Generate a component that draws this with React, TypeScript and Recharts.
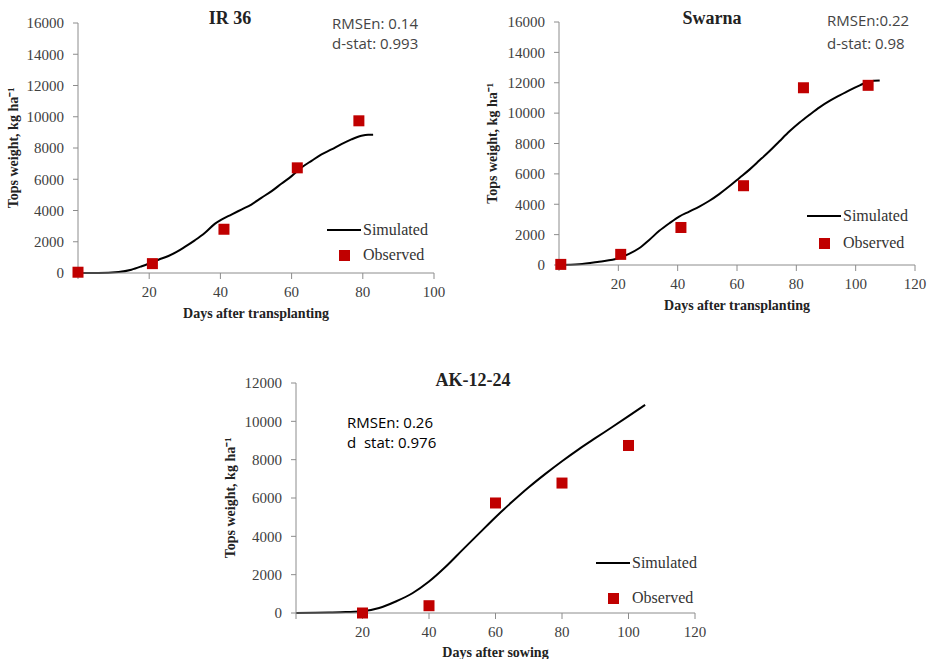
import React from 'react'
import { ComposedChart, Line, Scatter, XAxis, YAxis, Legend, Label } from 'recharts'

type Pt = { day: number; w: number }

// IR 36 — simulated curve and observed samples (kg/ha)
const irSim: Pt[] = [
  { day: 0, w: 0 }, { day: 5.7, w: 0 }, { day: 11.4, w: 64 }, { day: 15, w: 210 },
  { day: 17.9, w: 430 }, { day: 20.3, w: 640 }, { day: 22.6, w: 850 }, { day: 25.4, w: 1090 },
  { day: 27.7, w: 1350 }, { day: 30, w: 1670 }, { day: 32.8, w: 2090 }, { day: 35.6, w: 2560 },
  { day: 38.5, w: 3160 }, { day: 40.3, w: 3420 }, { day: 43.1, w: 3740 }, { day: 45.9, w: 4060 },
  { day: 48.7, w: 4380 }, { day: 51.5, w: 4810 }, { day: 54.4, w: 5240 }, { day: 57.2, w: 5730 },
  { day: 60, w: 6200 }, { day: 62.8, w: 6750 }, { day: 65.6, w: 7180 }, { day: 68.4, w: 7590 },
  { day: 71.2, w: 7910 }, { day: 74, w: 8250 }, { day: 76.8, w: 8550 }, { day: 79.6, w: 8780 },
  { day: 81.5, w: 8850 }, { day: 82.9, w: 8850 },
]
const irObs: Pt[] = [
  { day: 0, w: 50 }, { day: 20.9, w: 600 }, { day: 41, w: 2800 }, { day: 61.6, w: 6730 }, { day: 78.9, w: 9740 },
]

// Swarna
const swSim: Pt[] = [
  { day: 0, w: 0 }, { day: 6.8, w: 44 }, { day: 13.5, w: 220 }, { day: 20, w: 440 },
  { day: 23.6, w: 730 }, { day: 27, w: 1100 }, { day: 30.4, w: 1650 }, { day: 33.8, w: 2250 },
  { day: 37.2, w: 2750 }, { day: 40.5, w: 3190 }, { day: 43.9, w: 3520 }, { day: 47.3, w: 3850 },
  { day: 50.7, w: 4230 }, { day: 54, w: 4670 }, { day: 57.4, w: 5180 }, { day: 60.8, w: 5730 },
  { day: 64.2, w: 6280 }, { day: 67.6, w: 6890 }, { day: 70.9, w: 7490 }, { day: 74.3, w: 8150 },
  { day: 77.7, w: 8800 }, { day: 81.1, w: 9380 }, { day: 84.5, w: 9900 }, { day: 87.8, w: 10380 },
  { day: 91.2, w: 10800 }, { day: 94.6, w: 11170 }, { day: 98, w: 11520 }, { day: 101.4, w: 11830 },
  { day: 104.7, w: 12090 }, { day: 108.1, w: 12140 },
]
const swObs: Pt[] = [
  { day: 0.6, w: 40 }, { day: 20.8, w: 700 }, { day: 41.1, w: 2470 }, { day: 62.2, w: 5220 },
  { day: 82.4, w: 11670 }, { day: 104.2, w: 11830 },
]

// AK-12-24
const akSim: Pt[] = [
  { day: 0, w: 0 }, { day: 10, w: 20 }, { day: 15, w: 50 }, { day: 20, w: 90 },
  { day: 25, w: 260 }, { day: 30, w: 600 }, { day: 35, w: 1030 }, { day: 40, w: 1640 },
  { day: 45, w: 2410 }, { day: 50, w: 3280 }, { day: 55, w: 4140 }, { day: 60, w: 5000 },
  { day: 65, w: 5800 }, { day: 70, w: 6560 }, { day: 75, w: 7260 }, { day: 80, w: 7920 },
  { day: 85, w: 8540 }, { day: 90, w: 9120 }, { day: 95, w: 9690 }, { day: 100, w: 10270 },
  { day: 105, w: 10860 },
]
const akObs: Pt[] = [
  { day: 20, w: 0 }, { day: 40, w: 380 }, { day: 60, w: 5740 }, { day: 80, w: 6780 }, { day: 100, w: 8740 },
]

const ticks100 = [0, 20, 40, 60, 80, 100]
const ticks120 = [0, 20, 40, 60, 80, 100, 120]
const ticks16k = [0, 2000, 4000, 6000, 8000, 10000, 12000, 14000, 16000]
const ticks12k = [0, 2000, 4000, 6000, 8000, 10000, 12000]

const SERIF = '"Liberation Serif", "Times New Roman", serif'
const SANS = '"Open Sans", "Liberation Sans", sans-serif'
const RED = '#c00000'
const AXIS = '#8c8c8c'

const square = (p: any) => (
  <rect x={p.cx - 5.5} y={p.cy - 5.5} width={11} height={11} fill={RED} />
)

const legendContent = (gap: number) => (props: any) => {
  const items = [...(props.payload || [])].sort((a: any, b: any) =>
    a.type === 'line' ? -1 : b.type === 'line' ? 1 : 0)
  return (
    <div>
      {items.map((e: any, i: number) => (
        <div key={i} style={{ display: 'flex', alignItems: 'center', height: 20, marginBottom: i === 0 ? gap - 20 : 0 }}>
          <div style={{ width: 34, display: 'flex', justifyContent: 'center', alignItems: 'center' }}>
            {e.type === 'line'
              ? <div style={{ width: 34, height: 2.5, background: '#000' }} />
              : <div style={{ width: 11, height: 11, background: RED }} />}
          </div>
          <span style={{ marginLeft: 2, font: `16px ${SERIF}`, color: '#333', whiteSpace: 'nowrap' }}>{e.value}</span>
        </div>
      ))}
    </div>
  )
}

interface PanelProps {
  left: number
  top: number
  width: number
  height: number
  margin: { top: number; right: number; bottom: number; left: number }
  xMax: number
  yMax: number
  xTicks: number[]
  yTicks: number[]
  sim: Pt[]
  obs: Pt[]
  xTitle: string
  xLabelOffset: number
  yLabelOffset: number
  legendPos: { left: number; top: number; gap: number }
}

function Panel(p: PanelProps) {
  const tick = { fill: '#404040', fontSize: 15, fontFamily: SERIF }
  return (
    <div style={{ position: 'absolute', left: p.left, top: p.top }}>
      <ComposedChart width={p.width} height={p.height} margin={p.margin}>
        <XAxis
          type="number"
          dataKey="day"
          domain={[0, p.xMax]}
          ticks={p.xTicks}
          tickFormatter={(v: number) => (v === 0 ? '' : String(v))}
          height={30}
          tick={tick}
          tickSize={6}
          tickMargin={7}
          axisLine={{ stroke: AXIS }}
          tickLine={{ stroke: AXIS }}
        >
          <Label
            value={p.xTitle}
            position="bottom"
            offset={p.xLabelOffset}
            style={{ fontFamily: SERIF, fontWeight: 'bold', fontSize: 14, fill: '#222' }}
          />
        </XAxis>
        <YAxis
          type="number"
          dataKey="w"
          domain={[0, p.yMax]}
          ticks={p.yTicks}
          width={60}
          tick={tick}
          tickSize={5}
          tickMargin={9}
          axisLine={{ stroke: AXIS }}
          tickLine={{ stroke: AXIS }}
        >
          <Label
            value="Tops weight, kg ha⁻¹"
            angle={-90}
            position="insideLeft"
            offset={p.yLabelOffset}
            style={{ textAnchor: 'middle', fontFamily: SERIF, fontWeight: 'bold', fontSize: 14, fill: '#222' }}
          />
        </YAxis>
        <Legend
          layout="vertical"
          align="center"
          verticalAlign="middle"
          content={legendContent(p.legendPos.gap)}
          wrapperStyle={{ left: p.legendPos.left, top: p.legendPos.top, width: 'auto', height: 'auto' }}
        />
        <Line
          data={p.sim}
          dataKey="w"
          type="monotone"
          stroke="#000"
          strokeWidth={2}
          dot={false}
          activeDot={false}
          name="Simulated"
          legendType="line"
          isAnimationActive={false}
        />
        <Scatter
          data={p.obs}
          name="Observed"
          fill={RED}
          shape={square}
          legendType="square"
          isAnimationActive={false}
        />
      </ComposedChart>
    </div>
  )
}

function Title({ x, y, text }: { x: number; y: number; text: string }) {
  return (
    <div style={{
      position: 'absolute', left: x, top: y, transform: 'translate(-50%, -50%)',
      font: `bold 18px ${SERIF}`, color: '#222', whiteSpace: 'nowrap',
    }}>{text}</div>
  )
}

function Stat({ x, y, text, color }: { x: number; y: number; text: string; color: string }) {
  return (
    <div style={{
      position: 'absolute', left: x, top: y, transform: 'translateY(-50%)',
      font: `15px ${SANS}`, color, whiteSpace: 'pre', lineHeight: '18px',
    }}>{text}</div>
  )
}

export default function App() {
  return (
    <div style={{ position: 'absolute', left: 0, top: 0, width: 933, height: 659, background: '#fff', overflow: 'hidden' }}>
      <Panel
        left={0} top={0} width={460} height={330}
        margin={{ top: 23, right: 26, bottom: 27, left: 18 }}
        xMax={100} yMax={16000} xTicks={ticks100} yTicks={ticks16k}
        sim={irSim} obs={irObs}
        xTitle="Days after transplanting" xLabelOffset={5} yLabelOffset={-5}
        legendPos={{ left: 327, top: 220, gap: 25 }}
      />
      <Panel
        left={460} top={0} width={473} height={330}
        margin={{ top: 22, right: 18, bottom: 35, left: 39 }}
        xMax={120} yMax={16000} xTicks={ticks120} yTicks={ticks16k}
        sim={swSim} obs={swObs}
        xTitle="Days after transplanting" xLabelOffset={5} yLabelOffset={-7}
        legendPos={{ left: 347, top: 206, gap: 27 }}
      />
      <Panel
        left={210} top={360} width={520} height={299}
        margin={{ top: 23, right: 35, bottom: 16, left: 26 }}
        xMax={120} yMax={12000} xTicks={ticks120} yTicks={ticks12k}
        sim={akSim} obs={akObs}
        xTitle="Days after sowing" xLabelOffset={4} yLabelOffset={-6}
        legendPos={{ left: 386, top: 193, gap: 35 }}
      />
      <Title x={230} y={18} text="IR 36" />
      <Title x={712} y={18} text="Swarna" />
      <Title x={473} y={380} text="AK-12-24" />
      <Stat x={332} y={23} text="RMSEn: 0.14" color="#444" />
      <Stat x={332} y={43} text="d-stat: 0.993" color="#444" />
      <Stat x={827} y={20} text="RMSEn:0.22" color="#444" />
      <Stat x={827} y={43} text="d-stat: 0.98" color="#444" />
      <Stat x={347} y={422} text="RMSEn: 0.26" color="#000" />
      <Stat x={347} y={442} text="d  stat: 0.976" color="#000" />
    </div>
  )
}
